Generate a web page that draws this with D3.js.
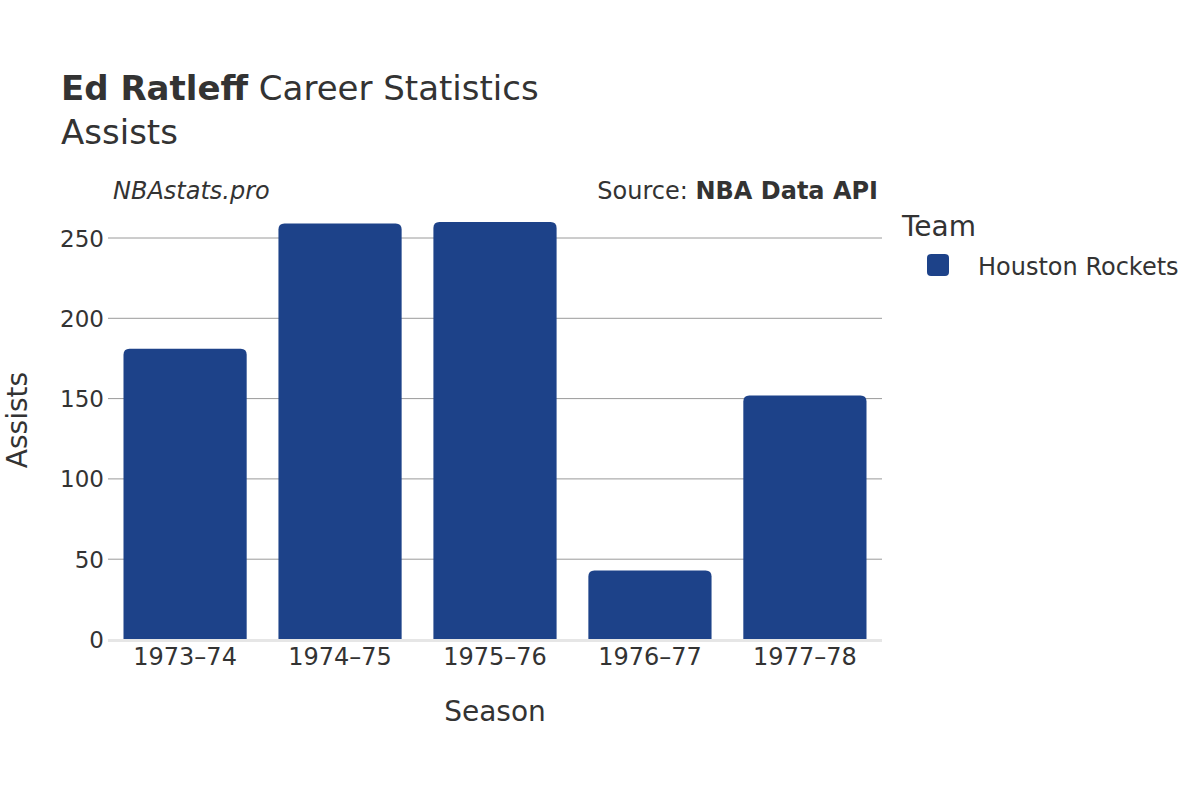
<!DOCTYPE html>
<html><head><meta charset="utf-8">
<script src="https://cdn.jsdelivr.net/npm/d3@7"></script>
<style>
body{margin:0;background:#fff;}
text{font-family:"DejaVu Sans",sans-serif;fill:#333;}
</style></head>
<body><svg id="c" width="1200" height="800"></svg>
<script>
const seasons = ["1973–74","1974–75","1975–76","1976–77","1977–78"];
const assists = [181, 259, 260, 43, 152];
const yTicks = [0, 50, 100, 150, 200, 250];
const team = "Houston Rockets";
const barColor = "#1d4289";

const svg = d3.select("#c");
const pLeft = 108, pRight = 882, pTop = 238, pBottom = 639.5;
const x = d3.scaleBand().domain(seasons).range([pLeft, pRight]).paddingInner(0.205).paddingOuter(0.1);
const y = d3.scaleLinear().domain([0, 250]).range([pBottom, pTop]);

// gridlines
svg.append("g").selectAll("line").data(yTicks.filter(d=>d>0)).join("line")
  .attr("x1", pLeft).attr("x2", pRight)
  .attr("y1", d=>y(d)).attr("y2", d=>y(d))
  .attr("stroke", "#9a9a9a").attr("stroke-width", 1);

// y axis labels
const ya = svg.append("g").attr("transform", `translate(${pLeft},0)`)
  .call(d3.axisLeft(y).tickValues(yTicks).tickSize(0).tickPadding(4));
ya.select(".domain").remove();
ya.selectAll("text").attr("font-size", 23).attr("fill", "#333").attr("font-family", "DejaVu Sans").attr("dy", "0.35em");

// bars with rounded top
const r = 6;
svg.append("g").selectAll("path").data(seasons).join("path")
  .attr("fill", barColor)
  .attr("d", (d,i) => {
    const x0 = x(d), w = x.bandwidth(), yt = y(assists[i]), yb = y(0);
    return `M${x0},${yb}V${yt+r}Q${x0},${yt} ${x0+r},${yt}H${x0+w-r}Q${x0+w},${yt} ${x0+w},${yt+r}V${yb}Z`;
  });

// zero line
svg.append("line").attr("x1", pLeft).attr("x2", pRight).attr("y1", y(0)+1).attr("y2", y(0)+1)
  .attr("stroke", "#e6e6e6").attr("stroke-width", 3);

// x axis
const xa = svg.append("g").attr("transform", `translate(0,${pBottom})`)
  .call(d3.axisBottom(x).tickSize(0).tickPadding(8));
xa.select(".domain").remove();
xa.selectAll("text").attr("font-size", 24).attr("fill", "#333").attr("font-family", "DejaVu Sans");

// axis titles
svg.append("text").attr("x", (pLeft+pRight)/2).attr("y", 721).attr("text-anchor", "middle")
  .attr("font-size", 28).text("Season");
svg.append("text").attr("transform", "translate(27,420) rotate(-90)").attr("text-anchor", "middle")
  .attr("font-size", 28).text("Assists");

// titles
const t = svg.append("text").attr("x", 61).attr("y", 100).attr("font-size", 34);
t.append("tspan").attr("font-weight", "bold").text("Ed Ratleff");
t.append("tspan").text(" Career Statistics");
svg.append("text").attr("x", 61).attr("y", 144).attr("font-size", 34).text("Assists");

svg.append("text").attr("x", 113).attr("y", 199).attr("font-size", 24).attr("font-style", "italic").text("NBAstats.pro");
const s = svg.append("text").attr("x", 878).attr("y", 199).attr("font-size", 24).attr("text-anchor", "end");
s.append("tspan").text("Source: ");
s.append("tspan").attr("font-weight", "bold").text("NBA Data API");

// legend
svg.append("text").attr("x", 902).attr("y", 236).attr("font-size", 28).text("Team");
svg.append("rect").attr("x", 927).attr("y", 254).attr("width", 22).attr("height", 22).attr("rx", 4)
  .attr("fill", barColor);
svg.append("text").attr("x", 978).attr("y", 275).attr("font-size", 24).text(team);
</script></body></html>
